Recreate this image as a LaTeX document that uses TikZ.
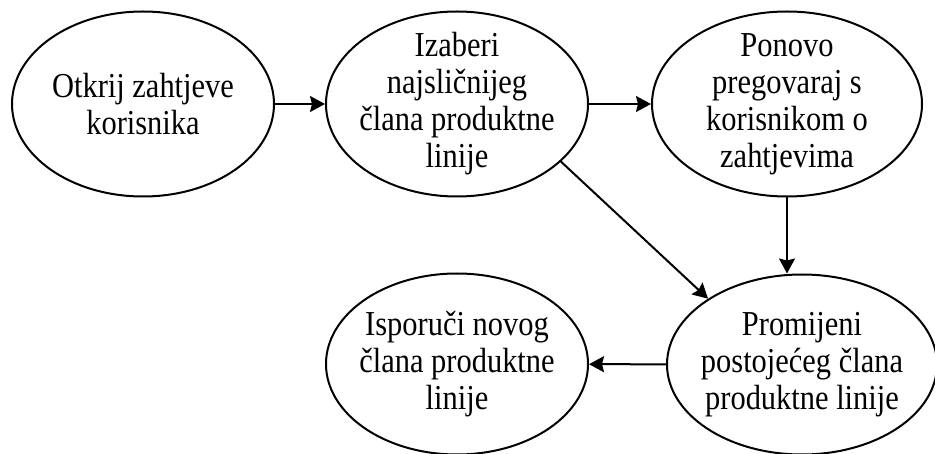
\documentclass[tikz,border=0pt]{standalone}
\usepackage{fontspec}
\setmainfont{Liberation Serif}[FakeStretch=0.87]
\usetikzlibrary{arrows.meta,positioning,shapes.geometric}

\begin{document}
\begin{tikzpicture}[>={Stealth[length=15pt,width=16pt,inset=2pt]},line width=2pt]
    \tikzstyle{activity}=[ellipse,draw,inner sep=-25pt,minimum width=262pt,minimum height=185pt,
        align=center,font=\fontsize{35}{37}\selectfont]

    \useasboundingbox (0pt,0pt) rectangle (935pt,-454pt);

    \node[activity] (otkrij) at (143pt,-104pt) {Otkrij zahtjeve\\korisnika};
    \node[activity] (izaberi) [right=50pt of otkrij] {Izaberi\\najsličnijeg\\člana produktne\\linije};
    \node[activity,minimum width=270pt] (ponovo) [right=62pt of izaberi] {Ponovo\\pregovaraj s\\korisnikom o\\zahtjevima};
    \node[activity,minimum height=181pt] (isporuci) [below=75pt of izaberi] {Isporuči novog\\člana produktne\\linije};
    \node[activity,minimum width=270pt,minimum height=180pt] (promijeni) [below=76pt of ponovo,xshift=15pt] {Promijeni\\postojećeg člana\\produktne linije};

    \path[->]
    (otkrij) edge (izaberi)
    (izaberi) edge (ponovo)
    (ponovo.south) edge (promijeni.north -| ponovo.south)
    (izaberi.-29) edge (promijeni.145)
    (promijeni) edge (isporuci);
\end{tikzpicture}
\end{document}
